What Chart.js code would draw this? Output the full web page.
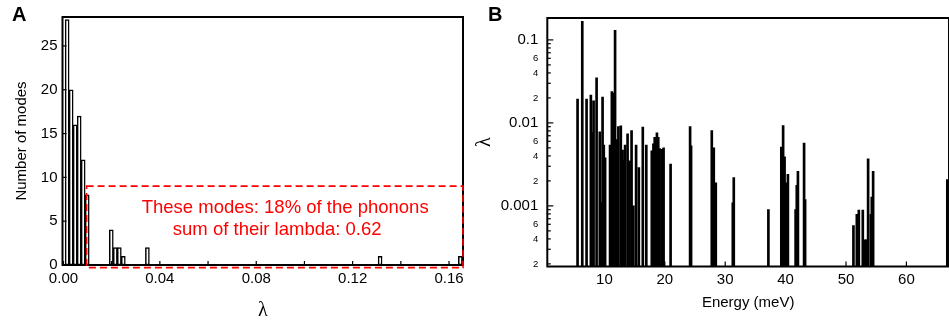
<!DOCTYPE html>
<html>
<head>
  <title>Phonon modes and lambda</title>
  <script src="https://cdn.jsdelivr.net/npm/chart.js"></script>
  <style>
    body { margin: 0; background: #fff; }
    canvas { position: absolute; top: 0; }
  </style>
</head>
<body>
  <canvas id="histChart" width="475" height="334" style="left:0"></canvas>
  <canvas id="lambdaChart" width="474" height="334" style="left:475px"></canvas>

  <script>
    // panel A: histogram of lambda per mode (only non-empty bins)
    const binCenters = [0.00153, 0.00320, 0.00486, 0.00653, 0.00819, 0.00986,
      0.01985, 0.02151, 0.02318, 0.02484, 0.03483, 0.13140, 0.16470];
    const modeCounts = [28, 20, 16, 17, 12, 8, 4, 2, 2, 1, 2, 1, 1];
    const histXTicks = [0, 0.02, 0.04, 0.06, 0.08, 0.10, 0.12, 0.14, 0.16];
    const histXLabels = ["0.00", "", "0.04", "", "0.08", "", "0.12", "", "0.16"];
    const histYTicks = [0, 5, 10, 15, 20, 25];

    // red box marking the strong modes
    const boxLambda = [0.0096, 0.1658];
    const boxCount = [-0.3, 9];
    const noteLines = ["These modes: 18% of the phonons", "sum of their lambda: 0.62"];
    const noteLambda = [0.0920, 0.0887];
    const noteCount = [6.5, 4.0];

    // panel B: lambda of each mode vs energy
    const energies = [5.56, 6.34, 7.05, 7.76, 8.05, 8.21, 8.71, 9.24, 9.45, 9.70, 9.90, 10.12,
      10.94, 11.24, 11.40, 11.49, 11.77, 12.05, 12.32, 12.72, 13.01, 13.20, 13.43, 13.84,
      14.17, 14.50, 14.80, 15.25, 15.70, 16.36, 16.94, 17.85, 18.12, 18.33, 18.70, 18.92,
      19.14, 19.50, 19.80, 20.96, 24.19, 24.35, 27.78, 27.95, 28.11, 28.44, 31.26, 31.42,
      37.15, 39.29, 39.59, 39.83, 40.13, 40.38, 41.66, 41.85, 42.04, 43.06, 43.23,
      51.23, 51.79, 52.12, 52.78, 53.16, 53.36, 53.66, 54.11, 54.27, 54.49, 66.77, 66.95];
    const lambdas = [0.0194, 0.167, 0.0194, 0.0217, 0.0077, 0.0185, 0.035, 0.0078, 0.0011, 0.0204, 0.0054, 0.0038,
      0.0054, 0.0238, 0.0081, 0.0228, 0.13, 0.0063, 0.0090, 0.0092, 0.0047, 0.0036, 0.0054, 0.0074,
      0.0035, 0.0081, 0.0010, 0.0054, 0.0029, 0.0089, 0.0054, 0.0046, 0.0056, 0.0067, 0.0076, 0.0067,
      0.0049, 0.0048, 0.0050, 0.0032, 0.0090, 0.0053, 0.0081, 0.0027, 0.0050, 0.0019, 0.00109, 0.0022,
      0.00090, 0.0051, 0.0093, 0.0039, 0.0019, 0.0024, 0.00090, 0.00177, 0.0026, 0.0057, 0.00119,
      0.00058, 0.00079, 0.00089, 0.00089, 0.00039, 0.00039, 0.0037, 0.00079, 0.00128, 0.0026, 0.00207, 0.0015];
    const energyTicks = [10, 20, 30, 40, 50, 60];
    const lamTicks = [2e-4, 3e-4, 4e-4, 5e-4, 6e-4, 7e-4, 8e-4, 9e-4, 1e-3,
      2e-3, 3e-3, 4e-3, 5e-3, 6e-3, 7e-3, 8e-3, 9e-3, 0.01,
      0.02, 0.03, 0.04, 0.05, 0.06, 0.07, 0.08, 0.09, 0.1];
    const lamLabels = ["2", "", "4", "", "6", "", "", "", "0.001",
      "2", "", "4", "", "6", "", "", "", "0.01",
      "2", "", "4", "", "6", "", "", "", "0.1"];

    Chart.defaults.font.family = "'Liberation Sans', Arial, sans-serif";
    Chart.defaults.font.size = 15;
    Chart.defaults.color = "#000";

    // frame round the plot area plus inward tick marks
    const frameTicks = {
      id: "frameTicks",
      afterDraw(chart, args, opts) {
        const { ctx, chartArea: a, scales } = chart;
        ctx.save();
        ctx.strokeStyle = "#000";
        ctx.lineWidth = 1.2;
        scales.x.ticks.forEach(t => {
          const px = scales.x.getPixelForValue(t.value);
          ctx.beginPath();
          ctx.moveTo(px, a.bottom);
          ctx.lineTo(px, a.bottom - opts.xLen);
          ctx.stroke();
        });
        scales.y.ticks.forEach(t => {
          const py = scales.y.getPixelForValue(t.value);
          const len = t.label && t.label.length > 1 ? opts.yMajor : opts.yMinor;
          ctx.beginPath();
          ctx.moveTo(a.left, py);
          ctx.lineTo(a.left + len, py);
          ctx.stroke();
        });
        ctx.lineWidth = 2;
        ctx.strokeRect(a.left, a.top, a.right - a.left, a.bottom - a.top);
        ctx.fillStyle = "#000";
        ctx.font = "bold 20px 'Liberation Sans', Arial, sans-serif";
        ctx.textBaseline = "alphabetic";
        ctx.fillText(opts.panel, opts.panelX, 21);
        ctx.restore();
      }
    };

    const noteBox = {
      id: "noteBox",
      afterDraw(chart) {
        const { ctx, scales: { x, y } } = chart;
        const x0 = x.getPixelForValue(boxLambda[0]), x1 = x.getPixelForValue(boxLambda[1]);
        const y0 = y.getPixelForValue(boxCount[0]), y1 = y.getPixelForValue(boxCount[1]);
        ctx.save();
        ctx.strokeStyle = "#ff0000";
        ctx.lineWidth = 1.6;
        ctx.setLineDash([7, 4]);
        ctx.strokeRect(x0, y1, x1 - x0, y0 - y1);
        ctx.fillStyle = "#ff0000";
        ctx.font = "18.5px 'Liberation Sans', Arial, sans-serif";
        ctx.textAlign = "center";
        ctx.textBaseline = "middle";
        noteLines.forEach((line, i) => {
          ctx.fillText(line, x.getPixelForValue(noteLambda[i]), y.getPixelForValue(noteCount[i]));
        });
        ctx.restore();
      }
    };

    new Chart(document.getElementById("histChart"), {
      type: "bar",
      data: {
        datasets: [{
          data: binCenters.map((c, i) => ({ x: c, y: modeCounts[i] })),
          backgroundColor: "#fff",
          borderColor: "#000",
          borderWidth: 1.5,
          borderSkipped: false,
          barPercentage: 1,
          categoryPercentage: 1
        }]
      },
      plugins: [frameTicks, noteBox],
      options: {
        responsive: false,
        animation: false,
        layout: { padding: { left: 0, top: 17, right: 12, bottom: 0 } },
        plugins: {
          legend: { display: false },
          tooltip: { enabled: false },
          frameTicks: { xLen: 4, yMajor: 4, yMinor: 4, panel: "A", panelX: 12 }
        },
        scales: {
          x: {
            type: "linear",
            offset: false,
            min: -0.0004,
            max: 0.1658,
            grid: { display: false, drawTicks: false },
            border: { display: false },
            afterBuildTicks: s => { s.ticks = histXTicks.map(v => ({ value: v })); },
            afterFit: s => { s.height = 69; },
            ticks: {
              padding: 5,
              maxRotation: 0,
              autoSkip: false,
              callback: (v, i) => histXLabels[i]
            },
            title: {
              display: true,
              text: "λ",
              font: { family: "'Liberation Serif', 'DejaVu Serif', serif", size: 20, lineHeight: 1 },
              padding: { top: 0, bottom: 13 }
            }
          },
          y: {
            min: 0,
            max: 28.3,
            grid: { display: false, drawTicks: false },
            border: { display: false },
            afterBuildTicks: s => { s.ticks = histYTicks.map(v => ({ value: v })); },
            afterFit: s => { s.width = 62.5; },
            ticks: { padding: 5, autoSkip: false },
            title: {
              display: true,
              text: "Number of modes",
              font: { size: 15, lineHeight: 1.2 },
              padding: { top: 12.7, bottom: 0 }
            }
          }
        }
      }
    });

    new Chart(document.getElementById("lambdaChart"), {
      type: "bar",
      data: {
        datasets: [{
          data: energies.map((e, i) => ({ x: e, y: lambdas[i] })),
          backgroundColor: "#000",
          borderWidth: 0,
          barThickness: 2
        }]
      },
      plugins: [frameTicks],
      options: {
        responsive: false,
        animation: false,
        layout: { padding: { left: 0, top: 17, right: 0, bottom: 0 } },
        plugins: {
          legend: { display: false },
          tooltip: { enabled: false },
          frameTicks: { xLen: 5, yMajor: 6, yMinor: 3.5, panel: "B", panelX: 13 }
        },
        scales: {
          x: {
            type: "linear",
            offset: false,
            min: 0.55,
            max: 67.05,
            grid: { display: false, drawTicks: false },
            border: { display: false },
            afterBuildTicks: s => { s.ticks = energyTicks.map(v => ({ value: v })); },
            afterFit: s => { s.height = 67.5; },
            ticks: { padding: 4.5, maxRotation: 0, autoSkip: false },
            title: {
              display: true,
              text: "Energy (meV)",
              font: { size: 15, lineHeight: 1.2 },
              padding: { top: 0, bottom: 22 }
            }
          },
          y: {
            type: "logarithmic",
            min: 1.86e-4,
            max: 0.1836,
            grid: { display: false, drawTicks: false },
            border: { display: false },
            afterBuildTicks: s => { s.ticks = lamTicks.map(v => ({ value: v })); },
            afterFit: s => { s.width = 72.3; },
            ticks: {
              padding: 9,
              autoSkip: false,
              callback: (v, i) => lamLabels[i],
              font: ctx => ({ size: lamLabels[ctx.index] && lamLabels[ctx.index].length > 1 ? 15 : 9.5 })
            },
            title: {
              display: true,
              text: "λ",
              font: { family: "'Liberation Serif', 'DejaVu Serif', serif", size: 20, lineHeight: 1 },
              padding: { top: 0, bottom: 0 }
            }
          }
        }
      }
    });
  </script>
</body>
</html>
